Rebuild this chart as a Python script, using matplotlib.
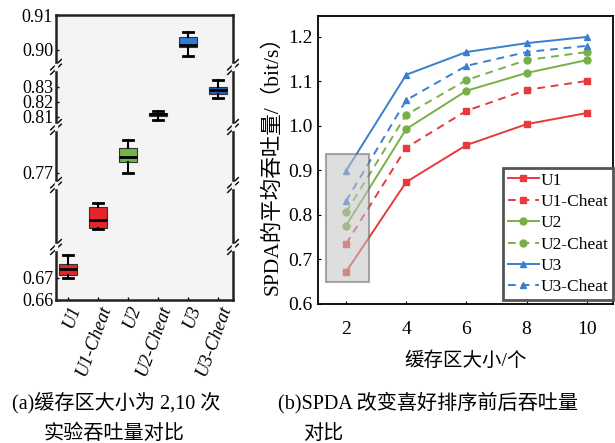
import numpy as np
import matplotlib.pyplot as plt
from matplotlib.patches import Rectangle

plt.rcParams['font.family'] = ['Liberation Serif', 'Noto Sans CJK SC']
plt.rcParams['axes.unicode_minus'] = False

# (a) box plot stats for buffer size 2, 10 runs
box_labels = ["U1", "U1-Cheat", "U2", "U2-Cheat", "U3", "U3-Cheat"]
whis_lo = [0.670, 0.7287, 0.770, 0.808, 0.8983, 0.8227]
q1 = [0.6714, 0.7292, 0.7755, 0.8107, 0.9009, 0.8253]
med = [0.6741, 0.7331, 0.7780, 0.8120, 0.9014, 0.8280]
q3 = [0.6764, 0.7394, 0.7825, 0.8127, 0.9037, 0.8300]
whis_hi = [0.6805, 0.7413, 0.7865, 0.8140, 0.9051, 0.8347]
box_colors = ["#e3262a", "#e3262a", "#74b445", "#5f9a3a", "#2f7ad3", "#2a5bb5"]
left_ticks = [0.66, 0.67, 0.77, 0.81, 0.82, 0.83, 0.90, 0.91]

# (b) throughput vs buffer size
buffer_size = [2, 4, 6, 8, 10]
series = {
    "U1":       [0.672, 0.874, 0.957, 1.004, 1.029],
    "U1-Cheat": [0.735, 0.951, 1.034, 1.081, 1.101],
    "U2":       [0.776, 0.993, 1.079, 1.119, 1.148],
    "U2-Cheat": [0.806, 1.025, 1.103, 1.148, 1.166],
    "U3":       [0.899, 1.115, 1.166, 1.186, 1.200],
    "U3-Cheat": [0.831, 1.058, 1.135, 1.166, 1.180],
}
line_colors = {"U1": "#e8393d", "U2": "#78b048", "U3": "#3a7fcf"}
line_markers = {"U1": "s", "U2": "o", "U3": "^"}

fig = plt.figure(figsize=(6.15, 4.43), dpi=100)

# ---------- left: broken axis box plot ----------
# piecewise scale: data segments -> pixel heights
seg_data = [(0.66, 0.684), (0.72, 0.75), (0.764, 0.793), (0.8033, 0.8433), (0.8951, 0.91)]
seg_pix = [0, 53, 115, 173, 233, 285]
xp, fp = [], []
for i, (lo, hi) in enumerate(seg_data):
    xp += [lo, hi]
    fp += [seg_pix[i] + (1e-6 if i > 0 else 0), seg_pix[i + 1]]
xp = np.array(xp)
fp = np.array(fp)


def fwd(v):
    return np.interp(v, xp, fp)


def inv(p):
    return np.interp(p, fp, xp)


axL = fig.add_axes([56 / 615, 143 / 443, 177 / 615, 285 / 443])
axL.set_facecolor("#f4f4f4")
axL.set_yscale("function", functions=(fwd, inv))
stats = []
for i in range(len(box_labels)):
    stats.append(dict(med=med[i], q1=q1[i], q3=q3[i], whislo=whis_lo[i], whishi=whis_hi[i]))
pos = np.arange(1, len(box_labels) + 1)
bp = axL.bxp(stats, positions=pos, widths=0.62, patch_artist=True, showfliers=False,
             medianprops=dict(color="black", lw=2),
             whiskerprops=dict(color="black", lw=1.5),
             capprops=dict(color="black", lw=2),
             boxprops=dict(edgecolor="#333333", lw=0.8))
for patch, c in zip(bp["boxes"], box_colors):
    patch.set_facecolor(c)
axL.set_xlim(0.6, 6.5)
axL.set_ylim(0.66, 0.91)
axL.set_yticks(left_ticks)
axL.set_yticklabels(["%.2f" % t for t in left_ticks], fontsize=13)
axL.set_xticks(pos)
axL.set_xticklabels(box_labels, rotation=70, ha="right", rotation_mode="anchor",
                    fontsize=13.5, style="italic")
axL.tick_params(direction="in", length=2, width=1, pad=2)
for s in axL.spines.values():
    s.set_linewidth(1.8)
    s.set_color("#222222")

# break marks on both spines
for p in seg_pix[1:-1]:
    yb = p / 285
    for xa in (0, 1):
        for off in (-0.008, 0.008):
            axL.plot([xa - 0.03, xa + 0.03], [yb + off - 0.018, yb + off + 0.018],
                     transform=axL.transAxes, color="black", lw=1.0, clip_on=False)
        axL.plot([xa, xa], [yb - 0.006, yb + 0.006], transform=axL.transAxes,
                 color="#f4f4f4", lw=2.5, clip_on=False, zorder=5)

# ---------- right: line chart ----------
axR = fig.add_axes([318 / 615, 139 / 443, 295 / 615, 288 / 443])
for name, vals in series.items():
    base = name.split("-")[0]
    ls = "--" if "Cheat" in name else "-"
    axR.plot(buffer_size, vals, ls, color=line_colors[base], marker=line_markers[base],
             markersize=5, lw=1.4, label=name, dashes=(4, 3) if ls == "--" else (None, None))
axR.add_patch(Rectangle((1.33, 0.649), 1.44, 0.288, facecolor="#c4c4c4", alpha=0.55,
                        edgecolor="#666666", lw=1.5, zorder=4))
axR.set_xlim(1.07, 10.87)
axR.set_ylim(0.6, 1.247)
axR.set_xticks(buffer_size)
axR.set_yticks([0.6, 0.7, 0.8, 0.9, 1.0, 1.1, 1.2])
axR.tick_params(direction="in", length=2, labelsize=14)
axR.tick_params(axis="x", pad=12)
axR.tick_params(axis="y", pad=4)
for s in axR.spines.values():
    s.set_linewidth(1.3)
axR.set_xlabel("缓存区大小/个", fontsize=14, labelpad=10)
axR.set_ylabel("SPDA的平均吞吐量/（bit/s）", fontsize=15.5, labelpad=4)
leg = axR.legend(loc="lower right", bbox_to_anchor=(1.0, 0.015), fontsize=12.5,
                 handlelength=1.8, handletextpad=0.1, labelspacing=0.3,
                 borderpad=0.25, borderaxespad=0, fancybox=False, framealpha=1)
leg.get_frame().set_edgecolor("#555555")
leg.get_frame().set_linewidth(2)

# captions
fig.text(12 / 615, 1 - 403 / 443, "(a)缓存区大小为 2,10 次", fontsize=14.5, va="center")
fig.text(44 / 615, 1 - 434 / 443, "实验吞吐量对比", fontsize=14.5, va="center")
fig.text(278 / 615, 1 - 403 / 443, "(b)SPDA 改变喜好排序前后吞吐量", fontsize=14.5, va="center")
fig.text(303 / 615, 1 - 434 / 443, "对比", fontsize=14.5, va="center")

fig.savefig("out.png", dpi=100)
